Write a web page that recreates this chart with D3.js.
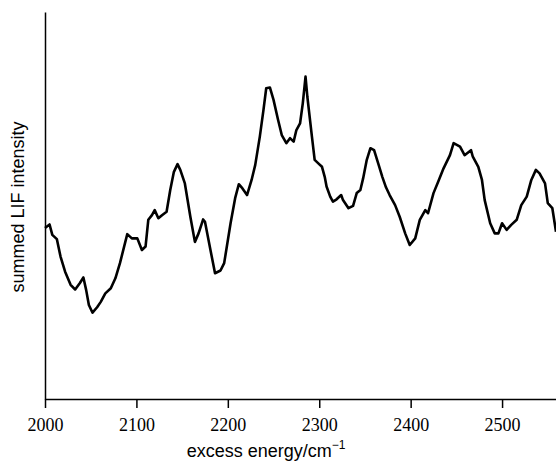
<!DOCTYPE html>
<html>
<head>
<meta charset="utf-8">
<script src="https://cdn.jsdelivr.net/npm/d3@7"></script>
<style>
  body { margin: 0; background: #fff; }
  svg { display: block; }
  .tick-label text { font-family: "Liberation Serif", "Times New Roman", serif; font-size: 18px; fill: #000; }
  .axis-title { font-family: "Liberation Sans", Arial, sans-serif; font-size: 18px; fill: #000; }
</style>
</head>
<body>
<svg id="chart" width="556" height="466"></svg>
<script>
// excess energy (cm^-1)
const energy = [
  2000, 2005, 2008, 2013, 2017, 2022, 2028, 2033, 2038, 2042, 2045, 2048, 2052, 2057, 2061,
  2066, 2072, 2077, 2082, 2090, 2095, 2101, 2106, 2110, 2113, 2117, 2120, 2124, 2128, 2133,
  2137, 2141, 2145, 2148, 2153, 2159, 2164, 2168, 2173, 2175, 2181, 2186, 2192, 2196, 2203,
  2208, 2212, 2216, 2221, 2226, 2230, 2235, 2239, 2242, 2246, 2250, 2255, 2259, 2264, 2268,
  2272, 2275, 2279, 2282, 2285, 2287, 2292, 2295, 2299, 2303, 2306, 2308, 2312, 2315, 2319,
  2324, 2326, 2332, 2337, 2341, 2345, 2348, 2352, 2356, 2360, 2365, 2369, 2373, 2377, 2383,
  2388, 2394, 2399, 2405, 2410, 2416, 2419, 2425, 2430, 2436, 2443, 2447, 2451, 2454, 2459,
  2466, 2468, 2474, 2478, 2481, 2487, 2492, 2496, 2500, 2505, 2510, 2516, 2521, 2527, 2532,
  2537, 2541, 2547, 2550, 2555, 2559
];
// summed LIF intensity (arbitrary units)
const intensity = [
  44.2, 45.1, 42.4, 41.3, 36.8, 32.9, 29.5, 28.3, 29.9, 31.4, 28.2, 24.3, 22.3, 23.7, 25.1,
  27.3, 28.6, 31.2, 35.1, 42.6, 41.5, 41.5, 38.5, 39.4, 46.3, 47.5, 48.8, 46.7, 47.5, 48.4,
  54.0, 58.7, 60.7, 59.2, 55.7, 47.1, 40.6, 42.8, 46.4, 45.8, 38.5, 32.5, 33.2, 35.1, 45.4,
  51.9, 55.5, 54.4, 52.7, 56.6, 60.5, 67.8, 74.7, 80.3, 80.5, 77.3, 72.1, 68.2, 66.1, 67.4,
  66.5, 69.5, 71.2, 76.4, 83.3, 78.1, 67.8, 61.8, 60.9, 60.0, 57.4, 54.9, 52.3, 51.0, 51.6,
  52.7, 51.4, 49.3, 49.9, 53.2, 54.0, 57.0, 61.8, 64.8, 64.3, 60.5, 57.4, 54.7, 52.7, 50.1,
  47.1, 42.8, 39.8, 41.5, 46.3, 48.8, 48.0, 53.2, 56.1, 59.6, 63.0, 66.1, 65.6, 65.2, 63.0,
  64.3, 62.6, 60.0, 56.6, 51.4, 45.4, 42.8, 42.8, 45.4, 43.7, 45.0, 46.3, 50.1, 52.3, 56.6,
  59.2, 58.3, 55.7, 50.6, 49.3, 43.2
];
const xTicks = [2000, 2100, 2200, 2300, 2400, 2500];

const svg = d3.select("#chart");
const margin = { top: 12, right: 0, bottom: 67, left: 45 };
const width = 556 - margin.left - margin.right;
const height = 466 - margin.top - margin.bottom;

const x = d3.scaleLinear().domain([2000, 2559]).range([0, width]);
const y = d3.scaleLinear().domain([0, 100]).range([height, 0]);

const g = svg.append("g").attr("transform", `translate(${margin.left},${margin.top})`);

// x axis
const xAxis = g.append("g")
  .attr("class", "tick-label")
  .attr("transform", `translate(0,${height})`)
  .call(d3.axisBottom(x).tickValues(xTicks).tickFormat(d3.format("d")).tickSize(9).tickSizeOuter(0).tickPadding(10));
xAxis.select(".domain").attr("stroke", "#000").attr("stroke-width", 1.5);
xAxis.selectAll(".tick line").attr("stroke", "#000").attr("stroke-width", 1.5);

// y axis, no ticks
const yAxis = g.append("g")
  .call(d3.axisLeft(y).tickValues([]).tickSizeOuter(0));
yAxis.select(".domain").attr("stroke", "#000").attr("stroke-width", 1.5);

// trace
const trace = energy.map((e, i) => ({ e, v: intensity[i] }));
const line = d3.line().x(d => x(d.e)).y(d => y(d.v));
g.append("path")
  .datum(trace)
  .attr("fill", "none")
  .attr("stroke", "#000")
  .attr("stroke-width", 2.6)
  .attr("stroke-linejoin", "round")
  .attr("d", line);

// axis titles
const xt = svg.append("text")
  .attr("class", "axis-title")
  .attr("x", 266)
  .attr("y", 457)
  .attr("text-anchor", "middle");
xt.append("tspan").text("excess energy/cm");
xt.append("tspan").attr("dy", -8).attr("font-size", "12px").text("\u22121");

svg.append("text")
  .attr("class", "axis-title")
  .attr("transform", "translate(24,207) rotate(-90)")
  .attr("text-anchor", "middle")
  .text("summed LIF intensity");
</script>
</body>
</html>
